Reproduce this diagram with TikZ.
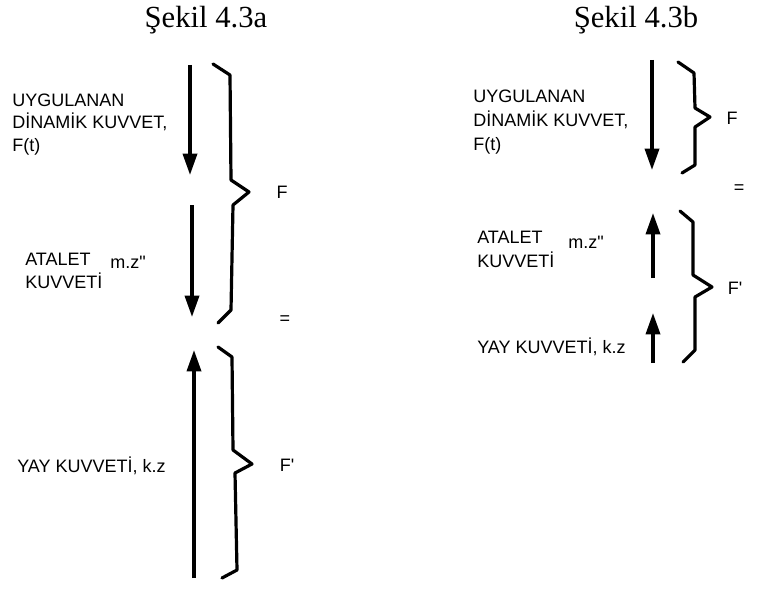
\documentclass[tikz,border=0pt]{standalone}
\usepackage{fontspec}
\setmainfont{Liberation Serif}
\setsansfont{Liberation Sans}
\usetikzlibrary{arrows.meta}
\begin{document}
\begin{tikzpicture}[x=0.75pt,y=-0.75pt,
  force/.style={line width=2.6pt,-{Triangle[length=16pt,width=10.5pt]}},
  brace/.style={line width=2.4pt,line join=round,line cap=round},
  lbl/.style={font=\sffamily\fontsize{13.5}{16}\selectfont,anchor=base west,inner sep=0pt},
  sym/.style={font=\sffamily\fontsize{13.5}{16}\selectfont,anchor=center,inner sep=0pt},
  ttl/.style={font=\fontsize{23}{26}\selectfont,anchor=base,inner sep=0pt}]
\useasboundingbox[fill=white] (0,0) rectangle (767,592);

% titles
\node[ttl] (t1) at (206,28) {Şekil 4.3a};
\node[ttl] (t2) at (636,28) {Şekil 4.3b};

% ---------- left panel ----------
\coordinate (a1s) at (190,65);  \coordinate (a1e) at (190,175);
\coordinate (a2s) at (192,205); \coordinate (a2e) at (192,317);
\coordinate (a3s) at (194,578); \coordinate (a3e) at (194,350);
\draw[force] (a1s) -- (a1e);
\draw[force] (a2s) -- (a2e);
\draw[force] (a3s) -- (a3e);

\draw[brace] (213,64) -- (230,75) -- (231,180) -- (249,192) -- (233,205) -- (231,310) -- (218,323);
\draw[brace] (218,347) -- (232,357) -- (233,450) -- (252,464) -- (235,473) -- (237,570) -- (222,578);

\node[lbl] (l1) at (12,106) {UYGULANAN};
\node[lbl] (l2) at (12,128) {DİNAMİK KUVVET,};
\node[lbl] (l3) at (12,151) {F(t)};
\node[lbl] (l4) at (25,265) {ATALET};
\node[lbl] (l5) at (25,288) {KUVVETİ};
\node[lbl] (l6) at (110,268) {m.z\textquotedbl};
\node[lbl] (l7) at (17,472) {YAY KUVVETİ, k.z};

\node[sym] (lF)  at (282,192) {F};
\node[sym] (lEq) at (285,320) {=};
\node[sym] (lFp) at (287,465) {F\textquotesingle};

% ---------- right panel ----------
\coordinate (b1s) at (652,60);  \coordinate (b1e) at (652,170);
\coordinate (b2s) at (653,278); \coordinate (b2e) at (653,213);
\coordinate (b3s) at (653,363); \coordinate (b3e) at (653,313);
\draw[force] (b1s) -- (b1e);
\draw[force] (b2s) -- (b2e);
\draw[force] (b3s) -- (b3e);

\draw[brace] (678,62) -- (694,73) -- (695,108) -- (710,117) -- (695,127) -- (695,165) -- (682,173);
\draw[brace] (680,211) -- (693,222) -- (693,275) -- (712,287) -- (695,297) -- (695,350) -- (683,362);

\node[lbl] (r1) at (473,103) {UYGULANAN};
\node[lbl] (r2) at (473,127) {DİNAMİK KUVVET,};
\node[lbl] (r3) at (473,150) {F(t)};
\node[lbl] (r4) at (477,243) {ATALET};
\node[lbl] (r5) at (477,267) {KUVVETİ};
\node[lbl] (r6) at (568,248) {m.z\textquotedbl};
\node[lbl] (r7) at (477,353) {YAY KUVVETİ, k.z};

\node[sym] (rF)  at (732,118) {F};
\node[sym] (rEq) at (739,189) {=};
\node[sym] (rFp) at (735,288) {F\textquotesingle};
\end{tikzpicture}
\end{document}
